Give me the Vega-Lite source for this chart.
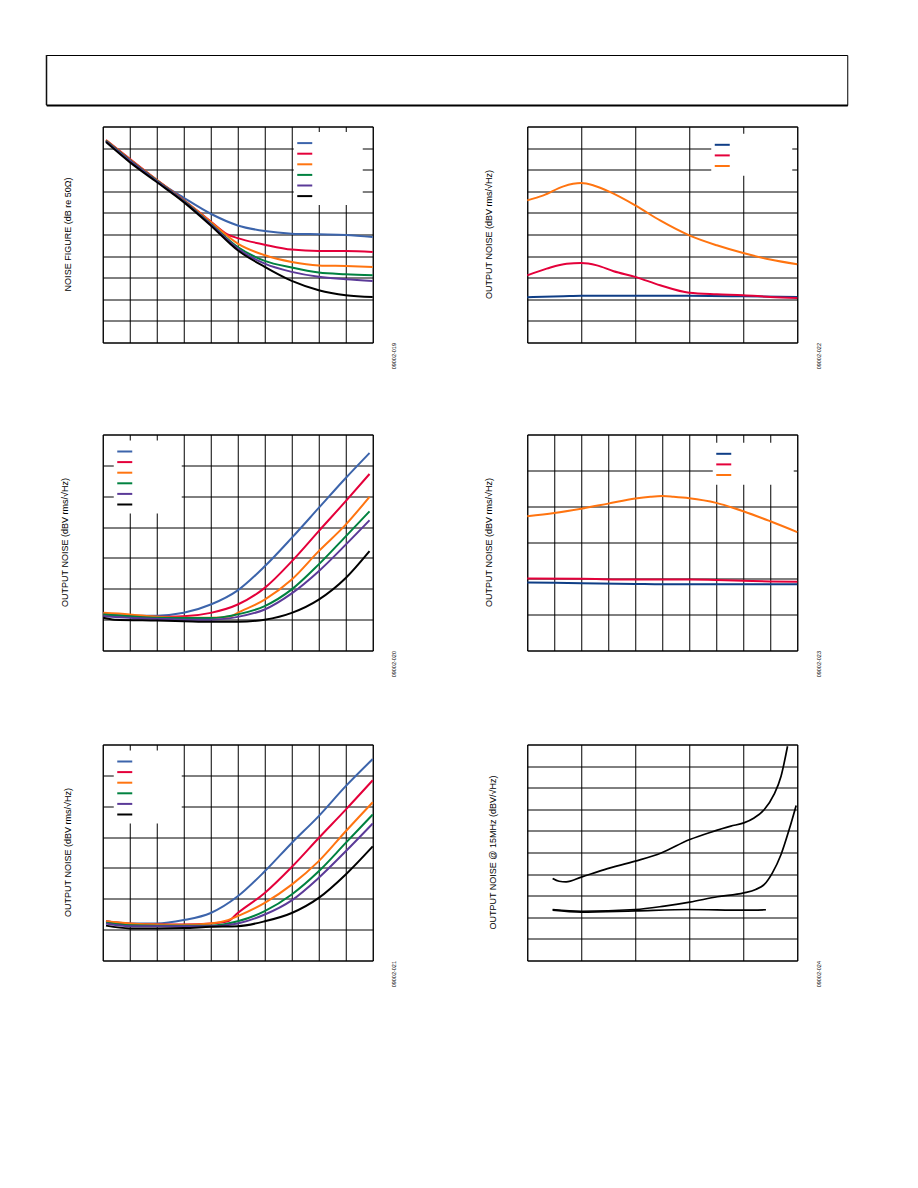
{
  "$schema": "https://vega.github.io/schema/vega-lite/v6.json",
  "padding": {"left": 45, "top": 54, "right": 0, "bottom": 0},
  "background": "white",
  "config": {
    "font": "Liberation Sans",
    "view": {"stroke": "black", "strokeWidth": 1},
    "axis": {
      "labels": false,
      "ticks": false,
      "domain": false,
      "gridColor": "black",
      "gridOpacity": 1,
      "gridWidth": 1,
      "titleFont": "Liberation Sans",
      "titleFontWeight": "normal",
      "titleColor": "black"
    },
    "axisY": {
      "titleFontSize": 5.5,
      "titleAngle": 270,
      "titleAnchor": "start",
      "titleAlign": "right",
      "titleBaseline": "middle",
      "titlePadding": 21
    },
    "line": {"strokeWidth": 2, "interpolate": "monotone"},
    "legend": {
      "title": null,
      "orient": "none",
      "fillColor": "white",
      "symbolType": "M-1.5,0H1.5",
      "symbolSize": 100,
      "symbolStrokeWidth": 3,
      "labelFontSize": 8,
      "rowPadding": 0.6,
      "padding": 5
    },
    "title": {
      "orient": "left",
      "anchor": "middle",
      "frame": "group",
      "angle": 270,
      "align": "center",
      "baseline": "middle",
      "offset": 29,
      "fontSize": 9,
      "fontWeight": "normal",
      "color": "black",
      "font": "Liberation Sans"
    }
  },
  "datasets": {
    "nf": [
      {"s": "c1", "x": 0.12, "y": 9.35}, {"s": "c1", "x": 1, "y": 8.45}, {"s": "c1", "x": 2, "y": 7.5}, {"s": "c1", "x": 3, "y": 6.7}, {"s": "c1", "x": 4, "y": 5.96}, {"s": "c1", "x": 5, "y": 5.42}, {"s": "c1", "x": 6, "y": 5.16}, {"s": "c1", "x": 7, "y": 5.04}, {"s": "c1", "x": 8, "y": 5.01}, {"s": "c1", "x": 9, "y": 4.98}, {"s": "c1", "x": 10, "y": 4.88},
      {"s": "c2", "x": 0.12, "y": 9.37}, {"s": "c2", "x": 1, "y": 8.5}, {"s": "c2", "x": 2, "y": 7.53}, {"s": "c2", "x": 3, "y": 6.6}, {"s": "c2", "x": 4, "y": 5.6}, {"s": "c2", "x": 4.6, "y": 5.02}, {"s": "c2", "x": 5, "y": 4.83}, {"s": "c2", "x": 6, "y": 4.53}, {"s": "c2", "x": 7, "y": 4.3}, {"s": "c2", "x": 8, "y": 4.24}, {"s": "c2", "x": 9, "y": 4.24}, {"s": "c2", "x": 10, "y": 4.19},
      {"s": "c3", "x": 0.12, "y": 9.36}, {"s": "c3", "x": 1, "y": 8.47}, {"s": "c3", "x": 2, "y": 7.52}, {"s": "c3", "x": 3, "y": 6.58}, {"s": "c3", "x": 4, "y": 5.58}, {"s": "c3", "x": 5, "y": 4.58}, {"s": "c3", "x": 6, "y": 4.04}, {"s": "c3", "x": 7, "y": 3.73}, {"s": "c3", "x": 8, "y": 3.57}, {"s": "c3", "x": 9, "y": 3.54}, {"s": "c3", "x": 10, "y": 3.5},
      {"s": "c4", "x": 0.12, "y": 9.34}, {"s": "c4", "x": 1, "y": 8.45}, {"s": "c4", "x": 2, "y": 7.5}, {"s": "c4", "x": 3, "y": 6.56}, {"s": "c4", "x": 4, "y": 5.5}, {"s": "c4", "x": 5, "y": 4.42}, {"s": "c4", "x": 6, "y": 3.78}, {"s": "c4", "x": 7, "y": 3.47}, {"s": "c4", "x": 8, "y": 3.24}, {"s": "c4", "x": 9, "y": 3.16}, {"s": "c4", "x": 10, "y": 3.11},
      {"s": "c5", "x": 0.12, "y": 9.32}, {"s": "c5", "x": 1, "y": 8.42}, {"s": "c5", "x": 2, "y": 7.47}, {"s": "c5", "x": 3, "y": 6.54}, {"s": "c5", "x": 4, "y": 5.47}, {"s": "c5", "x": 5, "y": 4.35}, {"s": "c5", "x": 6, "y": 3.65}, {"s": "c5", "x": 7, "y": 3.27}, {"s": "c5", "x": 8, "y": 3.04}, {"s": "c5", "x": 9, "y": 2.93}, {"s": "c5", "x": 10, "y": 2.85},
      {"s": "c6", "x": 0.12, "y": 9.28}, {"s": "c6", "x": 1, "y": 8.35}, {"s": "c6", "x": 2, "y": 7.43}, {"s": "c6", "x": 3, "y": 6.5}, {"s": "c6", "x": 4, "y": 5.42}, {"s": "c6", "x": 5, "y": 4.27}, {"s": "c6", "x": 6, "y": 3.5}, {"s": "c6", "x": 7, "y": 2.85}, {"s": "c6", "x": 8, "y": 2.42}, {"s": "c6", "x": 9, "y": 2.19}, {"s": "c6", "x": 10, "y": 2.11}
    ],
    "onTop": [
      {"s": "c1", "x": 0, "y": 2.1}, {"s": "c1", "x": 0.67, "y": 2.14}, {"s": "c1", "x": 1, "y": 2.16}, {"s": "c1", "x": 2, "y": 2.16}, {"s": "c1", "x": 3, "y": 2.16}, {"s": "c1", "x": 4, "y": 2.14}, {"s": "c1", "x": 5, "y": 2.11},
      {"s": "c2", "x": 0, "y": 3.11}, {"s": "c2", "x": 0.36, "y": 3.42}, {"s": "c2", "x": 0.73, "y": 3.65}, {"s": "c2", "x": 1, "y": 3.68}, {"s": "c2", "x": 1.29, "y": 3.57}, {"s": "c2", "x": 1.6, "y": 3.3}, {"s": "c2", "x": 2, "y": 3.04}, {"s": "c2", "x": 2.46, "y": 2.65}, {"s": "c2", "x": 3, "y": 2.3}, {"s": "c2", "x": 3.51, "y": 2.23}, {"s": "c2", "x": 4, "y": 2.19}, {"s": "c2", "x": 4.5, "y": 2.11}, {"s": "c2", "x": 5, "y": 2.06},
      {"s": "c3", "x": 0, "y": 6.58}, {"s": "c3", "x": 0.3, "y": 6.81}, {"s": "c3", "x": 0.67, "y": 7.23}, {"s": "c3", "x": 1, "y": 7.38}, {"s": "c3", "x": 1.23, "y": 7.27}, {"s": "c3", "x": 1.54, "y": 6.96}, {"s": "c3", "x": 2, "y": 6.35}, {"s": "c3", "x": 2.46, "y": 5.65}, {"s": "c3", "x": 3, "y": 4.96}, {"s": "c3", "x": 3.51, "y": 4.5}, {"s": "c3", "x": 4, "y": 4.14}, {"s": "c3", "x": 4.5, "y": 3.84}, {"s": "c3", "x": 5, "y": 3.62}
    ],
    "midLeft": [
      {"s": "c1", "x": 0.02, "y": 1.22}, {"s": "c1", "x": 0.43, "y": 1.14}, {"s": "c1", "x": 1, "y": 1.13}, {"s": "c1", "x": 2, "y": 1.13}, {"s": "c1", "x": 3, "y": 1.22}, {"s": "c1", "x": 4, "y": 1.49}, {"s": "c1", "x": 5, "y": 1.95}, {"s": "c1", "x": 6, "y": 2.73}, {"s": "c1", "x": 7, "y": 3.65}, {"s": "c1", "x": 8, "y": 4.62}, {"s": "c1", "x": 9, "y": 5.59}, {"s": "c1", "x": 9.88, "y": 6.4},
      {"s": "c2", "x": 0.02, "y": 1.17}, {"s": "c2", "x": 1, "y": 1.11}, {"s": "c2", "x": 2, "y": 1.09}, {"s": "c2", "x": 3, "y": 1.11}, {"s": "c2", "x": 4, "y": 1.22}, {"s": "c2", "x": 5, "y": 1.49}, {"s": "c2", "x": 6, "y": 2.03}, {"s": "c2", "x": 7, "y": 2.89}, {"s": "c2", "x": 8, "y": 3.87}, {"s": "c2", "x": 9, "y": 4.84}, {"s": "c2", "x": 9.88, "y": 5.72},
      {"s": "c3", "x": 0.02, "y": 1.22}, {"s": "c3", "x": 1, "y": 1.17}, {"s": "c3", "x": 2, "y": 1.09}, {"s": "c3", "x": 3, "y": 1.06}, {"s": "c3", "x": 4, "y": 1.06}, {"s": "c3", "x": 4.75, "y": 1.11}, {"s": "c3", "x": 5, "y": 1.22}, {"s": "c3", "x": 6, "y": 1.65}, {"s": "c3", "x": 7, "y": 2.3}, {"s": "c3", "x": 8, "y": 3.22}, {"s": "c3", "x": 9, "y": 4.08}, {"s": "c3", "x": 9.88, "y": 4.98},
      {"s": "c4", "x": 0.02, "y": 1.17}, {"s": "c4", "x": 1, "y": 1.11}, {"s": "c4", "x": 2, "y": 1.06}, {"s": "c4", "x": 3, "y": 1.05}, {"s": "c4", "x": 4, "y": 1.05}, {"s": "c4", "x": 5, "y": 1.17}, {"s": "c4", "x": 6, "y": 1.44}, {"s": "c4", "x": 7, "y": 1.98}, {"s": "c4", "x": 8, "y": 2.79}, {"s": "c4", "x": 9, "y": 3.7}, {"s": "c4", "x": 9.88, "y": 4.51},
      {"s": "c5", "x": 0.02, "y": 1.11}, {"s": "c5", "x": 1, "y": 1.06}, {"s": "c5", "x": 2, "y": 1.03}, {"s": "c5", "x": 3, "y": 1.0}, {"s": "c5", "x": 4, "y": 1.0}, {"s": "c5", "x": 5, "y": 1.09}, {"s": "c5", "x": 6, "y": 1.33}, {"s": "c5", "x": 7, "y": 1.85}, {"s": "c5", "x": 8, "y": 2.57}, {"s": "c5", "x": 9, "y": 3.43}, {"s": "c5", "x": 9.88, "y": 4.22},
      {"s": "c6", "x": 0.02, "y": 1.06}, {"s": "c6", "x": 0.43, "y": 1.0}, {"s": "c6", "x": 2, "y": 0.97}, {"s": "c6", "x": 3, "y": 0.95}, {"s": "c6", "x": 4, "y": 0.93}, {"s": "c6", "x": 5, "y": 0.93}, {"s": "c6", "x": 6, "y": 1.0}, {"s": "c6", "x": 7, "y": 1.22}, {"s": "c6", "x": 8, "y": 1.65}, {"s": "c6", "x": 9, "y": 2.35}, {"s": "c6", "x": 9.88, "y": 3.22}
    ],
    "midRight": [
      {"s": "c1", "x": 0, "y": 1.89}, {"s": "c1", "x": 2, "y": 1.87}, {"s": "c1", "x": 4, "y": 1.85}, {"s": "c1", "x": 5, "y": 1.84}, {"s": "c1", "x": 7, "y": 1.84}, {"s": "c1", "x": 10, "y": 1.84},
      {"s": "c2", "x": 0, "y": 2.0}, {"s": "c2", "x": 2, "y": 1.99}, {"s": "c2", "x": 4, "y": 1.97}, {"s": "c2", "x": 6, "y": 1.97}, {"s": "c2", "x": 7, "y": 1.96}, {"s": "c2", "x": 8, "y": 1.94}, {"s": "c2", "x": 9, "y": 1.92}, {"s": "c2", "x": 10, "y": 1.91},
      {"s": "c3", "x": 0, "y": 3.73}, {"s": "c3", "x": 1, "y": 3.82}, {"s": "c3", "x": 2, "y": 3.94}, {"s": "c3", "x": 3, "y": 4.08}, {"s": "c3", "x": 4, "y": 4.22}, {"s": "c3", "x": 4.56, "y": 4.27}, {"s": "c3", "x": 5, "y": 4.29}, {"s": "c3", "x": 5.42, "y": 4.27}, {"s": "c3", "x": 6, "y": 4.23}, {"s": "c3", "x": 7, "y": 4.1}, {"s": "c3", "x": 7.64, "y": 3.96}, {"s": "c3", "x": 8, "y": 3.87}, {"s": "c3", "x": 9, "y": 3.59}, {"s": "c3", "x": 10, "y": 3.29}
    ],
    "lowLeft": [
      {"s": "c1", "x": 0.12, "y": 1.27}, {"s": "c1", "x": 1, "y": 1.2}, {"s": "c1", "x": 2, "y": 1.2}, {"s": "c1", "x": 3, "y": 1.31}, {"s": "c1", "x": 4, "y": 1.54}, {"s": "c1", "x": 5, "y": 2.08}, {"s": "c1", "x": 6, "y": 2.89}, {"s": "c1", "x": 7, "y": 3.81}, {"s": "c1", "x": 8, "y": 4.68}, {"s": "c1", "x": 9, "y": 5.65}, {"s": "c1", "x": 10, "y": 6.53},
      {"s": "c2", "x": 0.12, "y": 1.27}, {"s": "c2", "x": 1, "y": 1.19}, {"s": "c2", "x": 2, "y": 1.17}, {"s": "c2", "x": 3, "y": 1.17}, {"s": "c2", "x": 4, "y": 1.2}, {"s": "c2", "x": 4.63, "y": 1.27}, {"s": "c2", "x": 5, "y": 1.54}, {"s": "c2", "x": 6, "y": 2.19}, {"s": "c2", "x": 7, "y": 3.03}, {"s": "c2", "x": 8, "y": 3.97}, {"s": "c2", "x": 9, "y": 4.89}, {"s": "c2", "x": 10, "y": 5.84},
      {"s": "c3", "x": 0.12, "y": 1.27}, {"s": "c3", "x": 1, "y": 1.2}, {"s": "c3", "x": 2, "y": 1.17}, {"s": "c3", "x": 3, "y": 1.16}, {"s": "c3", "x": 4, "y": 1.2}, {"s": "c3", "x": 4.63, "y": 1.31}, {"s": "c3", "x": 5, "y": 1.44}, {"s": "c3", "x": 6, "y": 1.87}, {"s": "c3", "x": 7, "y": 2.46}, {"s": "c3", "x": 8, "y": 3.22}, {"s": "c3", "x": 9, "y": 4.19}, {"s": "c3", "x": 10, "y": 5.13},
      {"s": "c4", "x": 0.12, "y": 1.22}, {"s": "c4", "x": 1, "y": 1.14}, {"s": "c4", "x": 2, "y": 1.13}, {"s": "c4", "x": 3, "y": 1.13}, {"s": "c4", "x": 4, "y": 1.13}, {"s": "c4", "x": 5, "y": 1.27}, {"s": "c4", "x": 6, "y": 1.6}, {"s": "c4", "x": 7, "y": 2.14}, {"s": "c4", "x": 8, "y": 2.89}, {"s": "c4", "x": 9, "y": 3.81}, {"s": "c4", "x": 10, "y": 4.73},
      {"s": "c5", "x": 0.12, "y": 1.2}, {"s": "c5", "x": 1, "y": 1.11}, {"s": "c5", "x": 2, "y": 1.11}, {"s": "c5", "x": 3, "y": 1.11}, {"s": "c5", "x": 4, "y": 1.11}, {"s": "c5", "x": 5, "y": 1.2}, {"s": "c5", "x": 6, "y": 1.49}, {"s": "c5", "x": 7, "y": 1.95}, {"s": "c5", "x": 8, "y": 2.68}, {"s": "c5", "x": 9, "y": 3.54}, {"s": "c5", "x": 10, "y": 4.44},
      {"s": "c6", "x": 0.12, "y": 1.13}, {"s": "c6", "x": 1, "y": 1.04}, {"s": "c6", "x": 2, "y": 1.04}, {"s": "c6", "x": 3, "y": 1.05}, {"s": "c6", "x": 4, "y": 1.09}, {"s": "c6", "x": 5, "y": 1.11}, {"s": "c6", "x": 6, "y": 1.27}, {"s": "c6", "x": 7, "y": 1.54}, {"s": "c6", "x": 8, "y": 2.03}, {"s": "c6", "x": 9, "y": 2.79}, {"s": "c6", "x": 10, "y": 3.7}
    ],
    "lowRight": [
      {"s": "upper", "x": 0.47, "y": 3.8}, {"s": "upper", "x": 0.59, "y": 3.67}, {"s": "upper", "x": 0.72, "y": 3.64}, {"s": "upper", "x": 1, "y": 3.86}, {"s": "upper", "x": 1.43, "y": 4.21}, {"s": "upper", "x": 2, "y": 4.6}, {"s": "upper", "x": 2.48, "y": 4.98}, {"s": "upper", "x": 3.01, "y": 5.6}, {"s": "upper", "x": 3.4, "y": 5.94}, {"s": "upper", "x": 3.77, "y": 6.22}, {"s": "upper", "x": 4.01, "y": 6.37}, {"s": "upper", "x": 4.2, "y": 6.6}, {"s": "upper", "x": 4.39, "y": 6.99}, {"s": "upper", "x": 4.57, "y": 7.69}, {"s": "upper", "x": 4.7, "y": 8.53}, {"s": "upper", "x": 4.82, "y": 9.92},
      {"s": "middle", "x": 0.47, "y": 2.36}, {"s": "middle", "x": 1, "y": 2.28}, {"s": "middle", "x": 2, "y": 2.36}, {"s": "middle", "x": 2.54, "y": 2.52}, {"s": "middle", "x": 3.01, "y": 2.7}, {"s": "middle", "x": 3.52, "y": 2.95}, {"s": "middle", "x": 4.01, "y": 3.13}, {"s": "middle", "x": 4.23, "y": 3.29}, {"s": "middle", "x": 4.39, "y": 3.52}, {"s": "middle", "x": 4.54, "y": 4.06}, {"s": "middle", "x": 4.7, "y": 4.91}, {"s": "middle", "x": 4.85, "y": 6.06}, {"s": "middle", "x": 4.98, "y": 7.18},
      {"s": "lower", "x": 0.47, "y": 2.33}, {"s": "lower", "x": 1, "y": 2.24}, {"s": "lower", "x": 2, "y": 2.3}, {"s": "lower", "x": 3.01, "y": 2.36}, {"s": "lower", "x": 4.01, "y": 2.33}, {"s": "lower", "x": 4.42, "y": 2.35}
    ]
  },
  "center": true,
  "spacing": 19.5,
  "vconcat": [
    {
      "width": 801,
      "height": 50,
      "data": {"values": [{}]},
      "title": {"text": " ", "orient": "right", "anchor": "middle", "angle": 0, "align": "left", "baseline": "middle", "offset": 31, "fontSize": 1},
      "mark": {"type": "rule", "color": "black", "strokeWidth": 1},
      "encoding": {
        "x": {
          "datum": 0,
          "type": "quantitative",
          "scale": {"domain": [0, 1]},
          "axis": {"domain": true, "domainColor": "black", "domainWidth": 2, "grid": false, "title": null}
        }
      }
    },
    {
      "columns": 2,
      "bounds": "full",
      "spacing": {"row": 64, "column": 86.5},
      "resolve": {"scale": {"x": "independent", "y": "independent", "color": "independent"}, "legend": {"color": "independent"}},
      "concat": [
        {
          "width": 270,
          "height": 216,
          "data": {"name": "nf"},
          "title": "NOISE FIGURE (dB re 50Ω)",
          "mark": "line",
          "encoding": {
            "x": {"field": "x", "type": "quantitative", "title": null, "scale": {"domain": [0, 10]}, "axis": {"values": [0, 1, 2, 3, 4, 5, 6, 7, 8, 9, 10]}},
            "y": {"field": "y", "type": "quantitative", "title": "09002-019", "scale": {"domain": [0, 10]}, "axis": {"orient": "right", "values": [0, 1, 2, 3, 4, 5, 6, 7, 8, 9, 10]}},
            "color": {
              "field": "s", "type": "nominal",
              "scale": {"domain": ["c1", "c2", "c3", "c4", "c5", "c6"], "range": ["#3c64ab", "#e4003a", "#ff7410", "#008240", "#5b3a98", "#000000"]},
              "legend": {"legendX": 191, "legendY": 5.6, "labelOffset": 47, "labelExpr": "''"}
            }
          }
        },
        {
          "width": 270,
          "height": 216,
          "data": {"name": "onTop"},
          "title": "OUTPUT NOISE (dBV rms/√Hz)",
          "mark": "line",
          "encoding": {
            "x": {"field": "x", "type": "quantitative", "title": null, "scale": {"domain": [0, 5]}, "axis": {"values": [0, 1, 2, 3, 4, 5]}},
            "y": {"field": "y", "type": "quantitative", "title": "09002-022", "scale": {"domain": [0, 10]}, "axis": {"orient": "right", "values": [0, 1, 2, 3, 4, 5, 6, 7, 8, 9, 10]}},
            "color": {
              "field": "s", "type": "nominal",
              "scale": {"domain": ["c1", "c2", "c3"], "range": ["#0f3e86", "#e4003a", "#ff7410"]},
              "legend": {"legendX": 184, "legendY": 7.3, "labelOffset": 59, "labelExpr": "''"}
            }
          }
        },
        {
          "width": 270,
          "height": 216,
          "data": {"name": "midLeft"},
          "title": "OUTPUT NOISE (dBV rms/√Hz)",
          "mark": "line",
          "encoding": {
            "x": {"field": "x", "type": "quantitative", "title": null, "scale": {"domain": [0, 10]}, "axis": {"values": [0, 1, 2, 3, 4, 5, 6, 7, 8, 9, 10]}},
            "y": {"field": "y", "type": "quantitative", "title": "09002-020", "scale": {"domain": [0, 7]}, "axis": {"orient": "right", "values": [0, 1, 2, 3, 4, 5, 6, 7]}},
            "color": {
              "field": "s", "type": "nominal",
              "scale": {"domain": ["c1", "c2", "c3", "c4", "c5", "c6"], "range": ["#3c64ab", "#e4003a", "#ff7410", "#008240", "#5b3a98", "#000000"]},
              "legend": {"legendX": 11, "legendY": 6, "labelOffset": 46, "labelExpr": "''"}
            }
          }
        },
        {
          "width": 270,
          "height": 216,
          "data": {"name": "midRight"},
          "title": "OUTPUT NOISE (dBV rms/√Hz)",
          "mark": "line",
          "encoding": {
            "x": {"field": "x", "type": "quantitative", "title": null, "scale": {"domain": [0, 10]}, "axis": {"values": [0, 1, 2, 3, 4, 5, 6, 7, 8, 9, 10]}},
            "y": {"field": "y", "type": "quantitative", "title": "09002-023", "scale": {"domain": [0, 6]}, "axis": {"orient": "right", "values": [0, 1, 2, 3, 4, 5, 6]}},
            "color": {
              "field": "s", "type": "nominal",
              "scale": {"domain": ["c1", "c2", "c3"], "range": ["#0f3e86", "#e4003a", "#ff7410"]},
              "legend": {"legendX": 185.5, "legendY": 8.3, "labelOffset": 59, "labelExpr": "''"}
            }
          }
        },
        {
          "width": 270,
          "height": 216,
          "data": {"name": "lowLeft"},
          "title": "OUTPUT NOISE (dBV rms/√Hz)",
          "mark": "line",
          "encoding": {
            "x": {"field": "x", "type": "quantitative", "title": null, "scale": {"domain": [0, 10]}, "axis": {"values": [0, 1, 2, 3, 4, 5, 6, 7, 8, 9, 10]}},
            "y": {"field": "y", "type": "quantitative", "title": "09002-021", "scale": {"domain": [0, 7]}, "axis": {"orient": "right", "values": [0, 1, 2, 3, 4, 5, 6, 7]}},
            "color": {
              "field": "s", "type": "nominal",
              "scale": {"domain": ["c1", "c2", "c3", "c4", "c5", "c6"], "range": ["#3c64ab", "#e4003a", "#ff7410", "#008240", "#5b3a98", "#000000"]},
              "legend": {"legendX": 11, "legendY": 6, "labelOffset": 46, "labelExpr": "''"}
            }
          }
        },
        {
          "width": 270,
          "height": 216,
          "data": {"name": "lowRight"},
          "title": "OUTPUT NOISE @ 15MHz (dBV/√Hz)",
          "mark": {"type": "line", "strokeWidth": 1.7},
          "encoding": {
            "x": {"field": "x", "type": "quantitative", "title": null, "scale": {"domain": [0, 5]}, "axis": {"values": [0, 1, 2, 3, 4, 5]}},
            "y": {"field": "y", "type": "quantitative", "title": "09002-024", "scale": {"domain": [0, 10]}, "axis": {"orient": "right", "values": [0, 1, 2, 3, 4, 5, 6, 7, 8, 9, 10]}},
            "detail": {"field": "s", "type": "nominal"},
            "color": {"value": "black"}
          }
        }
      ]
    }
  ]
}
